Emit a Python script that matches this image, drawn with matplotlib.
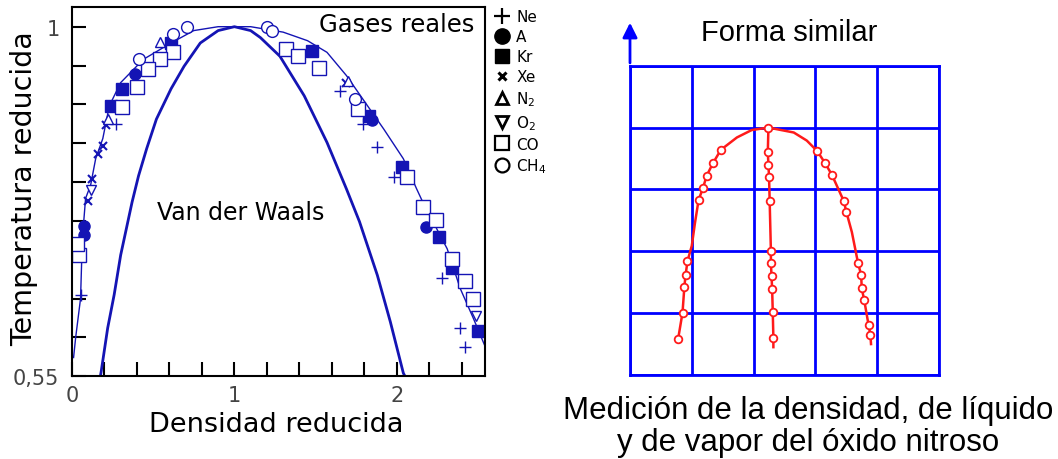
import matplotlib
matplotlib.use('Agg')
import matplotlib.pyplot as plt
from matplotlib.lines import Line2D
import numpy as np

# ---- left panel: reduced density vs reduced temperature ----
# fitted curve for real gases (read from picture)
real_rho = [0.01, 0.023, 0.053, 0.064, 0.084, 0.115, 0.146, 0.19, 0.23, 0.30, 0.44, 0.61, 0.75, 0.9,
            1.1, 1.3, 1.45, 1.57, 1.69, 1.92, 2.04, 2.12, 2.16, 2.31, 2.39, 2.47, 2.54]
real_t = [0.574, 0.60, 0.65, 0.727, 0.779, 0.796, 0.83, 0.856, 0.898, 0.928, 0.958, 0.979, 0.995, 1.0,
          1.0, 0.993, 0.982, 0.967, 0.937, 0.868, 0.83, 0.792, 0.774, 0.714, 0.663, 0.625, 0.59]

# van der Waals curve
vdw_rho = [0.175, 0.18, 0.22, 0.26, 0.30, 0.37, 0.41, 0.46, 0.52, 0.61, 0.69, 0.79, 0.90, 1.0,
           1.10, 1.16, 1.28, 1.43, 1.57, 1.69, 1.77, 1.88, 1.96, 2.04, 2.05]
vdw_t = [0.55, 0.556, 0.612, 0.655, 0.706, 0.774, 0.808, 0.843, 0.881, 0.92, 0.949, 0.979, 0.995, 1.0,
         0.995, 0.986, 0.962, 0.911, 0.851, 0.791, 0.749, 0.68, 0.62, 0.554, 0.55]

# measured points per gas
ne_rho = [0.27, 1.65, 1.79, 1.88, 1.98, 2.28, 2.39, 2.42, 0.053]
ne_t = [0.875, 0.917, 0.875, 0.845, 0.806, 0.676, 0.612, 0.587, 0.655]
a_rho = [0.39, 0.074, 0.074, 2.18, 1.85]
a_t = [0.939, 0.744, 0.732, 0.742, 0.88]
kr_rho = [0.61, 0.31, 0.24, 1.48, 1.83, 2.03, 2.26, 2.34, 2.50]
kr_t = [0.979, 0.92, 0.898, 0.969, 0.885, 0.819, 0.729, 0.689, 0.608]
xe_rho = [0.21, 0.19, 0.16, 0.125, 0.10, 1.69]
xe_t = [0.873, 0.847, 0.836, 0.804, 0.776, 0.928]
n2_rho = [0.54, 0.22, 1.70]
n2_t = [0.98, 0.881, 0.93]
o2_rho = [2.49, 0.12]
o2_t = [0.628, 0.79]
co_rho = [0.62, 0.545, 0.47, 0.40, 0.31, 0.043, 0.03, 1.32, 1.39, 1.52, 1.76, 2.06, 2.16, 2.24, 2.34, 2.42, 2.47]
co_t = [0.967, 0.958, 0.945, 0.922, 0.896, 0.706, 0.72, 0.971, 0.962, 0.947, 0.894, 0.806, 0.768, 0.751,
        0.701, 0.672, 0.65]
ch4_rho = [0.71, 0.41, 1.20, 1.23, 1.74, 0.62]
ch4_t = [0.999, 0.958, 0.999, 0.995, 0.907, 0.99]

# ---- right panel: nitrous oxide ----
outer_x = [0.78, 0.85, 0.88, 0.90, 0.93, 1.0, 1.05, 1.11, 1.18, 1.24, 1.34, 1.47, 1.73, 1.97, 2.24,
           2.65, 2.86, 3.03, 3.16, 3.27, 3.46, 3.50, 3.59, 3.64, 3.69, 3.74, 3.75, 3.79, 3.86, 3.89, 3.90]
outer_y = [0.59, 1.01, 1.43, 1.62, 1.84, 2.09, 2.45, 2.83, 3.02, 3.22, 3.42, 3.64, 3.84, 3.96, 4.0,
           3.92, 3.79, 3.62, 3.42, 3.23, 2.81, 2.64, 2.31, 2.06, 1.81, 1.62, 1.40, 1.21, 0.81, 0.65, 0.50]
mid_line_x = [2.24, 2.23, 2.24, 2.25, 2.26, 2.28, 2.28, 2.29, 2.30, 2.31, 2.32, 2.32]
mid_line_y = [4.0, 3.61, 3.39, 3.20, 2.81, 2.00, 1.81, 1.60, 1.39, 1.02, 0.60, 0.45]

n2o_x = [0.78, 0.85, 0.88, 0.90, 0.93, 1.11, 1.18, 1.24, 1.34, 1.47, 2.24,
         2.23, 2.24, 2.25, 2.26, 2.28, 2.28, 2.29, 2.30, 2.31, 2.32,
         3.03, 3.16, 3.27, 3.46, 3.50, 3.69, 3.74, 3.75, 3.79, 3.86, 3.89]
n2o_y = [0.59, 1.01, 1.43, 1.62, 1.84, 2.83, 3.02, 3.22, 3.42, 3.64, 4.00,
         3.61, 3.39, 3.20, 2.81, 2.00, 1.81, 1.60, 1.39, 1.02, 0.60,
         3.62, 3.42, 3.23, 2.81, 2.64, 1.81, 1.62, 1.40, 1.21, 0.81, 0.65]

navy = '#1414b4'
blue = '#0000ff'
red = '#ff1a1a'

fig = plt.figure(figsize=(10.58, 4.60), dpi=100)

ax = fig.add_axes([0.068, 0.180, 0.390, 0.802])
ax.plot(real_rho, real_t, color=navy, lw=1.0)
ax.plot(vdw_rho, vdw_t, color=navy, lw=2.0)

gases = [
    (ne_rho, ne_t, '+', navy, 9, 1.0),
    (a_rho, a_t, 'o', navy, 8, 1.0),
    (kr_rho, kr_t, 's', navy, 8, 1.0),
    (xe_rho, xe_t, 'x', navy, 6, 1.5),
    (n2_rho, n2_t, '^', 'white', 7, 1.0),
    (o2_rho, o2_t, 'v', 'white', 7, 1.0),
    (co_rho, co_t, 's', 'white', 10, 1.0),
    (ch4_rho, ch4_t, 'o', 'white', 8.5, 1.0),
]
for xs, ys, m, fc, ms, mw in gases:
    ax.plot(xs, ys, linestyle='none', marker=m, mfc=fc, mec=navy, ms=ms, mew=mw)

ax.set_xlim(0, 2.54)
ax.set_ylim(0.55, 1.025)
xt = np.arange(0, 2.41, 0.2)
ax.set_xticks(xt)
ax.set_xticklabels(['0' if abs(v) < 1e-6 else '1' if abs(v - 1) < 1e-6 else '2' if abs(v - 2) < 1e-6 else ''
                    for v in xt])
yt = np.arange(0.55, 1.0001, 0.05)
ax.set_yticks(yt)
ax.set_yticklabels(['0,55'] + [''] * (len(yt) - 2) + ['1'])
ax.tick_params(direction='in', length=10, width=1.5, labelsize=15, labelcolor='#444444')
ax.tick_params(axis='y', pad=9)
ax.tick_params(axis='x', pad=6)
for s in ax.spines.values():
    s.set_linewidth(1.5)

ax.set_ylabel('Temperatura reducida', fontsize=20.5)
ax.yaxis.set_label_coords(-0.083, 0.51)
ax.set_xlabel('Densidad reducida', fontsize=19.5)
ax.xaxis.set_label_coords(0.494, -0.095)
ax.xaxis.label.set_va('top')

ax.text(0.976, 0.986, 'Gases reales', transform=ax.transAxes, ha='right', va='top', fontsize=17.5)
ax.text(1.04, 0.762, 'Van der Waals', ha='center', va='center', fontsize=17)

handles = [
    Line2D([], [], ls='none', marker='+', color='black', ms=12, mew=1.6),
    Line2D([], [], ls='none', marker='o', color='black', ms=11),
    Line2D([], [], ls='none', marker='s', color='black', ms=10),
    Line2D([], [], ls='none', marker='x', color='black', ms=6, mew=2.2),
    Line2D([], [], ls='none', marker='^', mfc='white', mec='black', ms=9, mew=2),
    Line2D([], [], ls='none', marker='v', mfc='white', mec='black', ms=8, mew=2),
    Line2D([], [], ls='none', marker='s', mfc='white', mec='black', ms=10, mew=1.6),
    Line2D([], [], ls='none', marker='o', mfc='white', mec='black', ms=10, mew=1.6),
]
labels = ['Ne', 'A', 'Kr', 'Xe', 'N$_2$', 'O$_2$', 'CO', 'CH$_4$']
fig.legend(handles, labels, loc='upper left', bbox_to_anchor=(494 / 1058, 1 - 10 / 460),
           frameon=False, fontsize=11, handlelength=1.0, handletextpad=0.45,
           labelspacing=0.33, borderpad=0, borderaxespad=0)

# right panel
ax2 = fig.add_axes([630 / 1058, 1 - 376 / 460, 309 / 1058, 309.3 / 460])
ax2.set_xlim(0, 5)
ax2.set_ylim(0, 5)
ax2.set_xticks(range(6))
ax2.set_yticks(range(6))
ax2.grid(color=blue, lw=2)
ax2.tick_params(length=0, labelbottom=False, labelleft=False)
for s in ax2.spines.values():
    s.set_color(blue)
    s.set_linewidth(2)
ax2.plot(outer_x, outer_y, color=red, lw=1.8)
ax2.plot(mid_line_x, mid_line_y, color=red, lw=1.8)
ax2.plot(n2o_x, n2o_y, ls='none', marker='o', mfc='white', mec=red, ms=5.5, mew=1.3)
ax2.annotate('', xy=(0, 1.148), xytext=(0, 1.0), xycoords='axes fraction',
             arrowprops=dict(arrowstyle='-|>', color=blue, lw=2, mutation_scale=22),
             annotation_clip=False)

fig.text(789 / 1058, 1 - 33 / 460, 'Forma similar', ha='center', va='center',
         fontsize=21, family='Liberation Sans')
fig.text(808 / 1058, 1 - 396 / 460, 'Medición de la densidad, de líquido\ny de vapor del óxido nitroso',
         ha='center', va='top', fontsize=22.5, family='Liberation Sans', linespacing=1.1)

fig.savefig('out.png', dpi=100)
